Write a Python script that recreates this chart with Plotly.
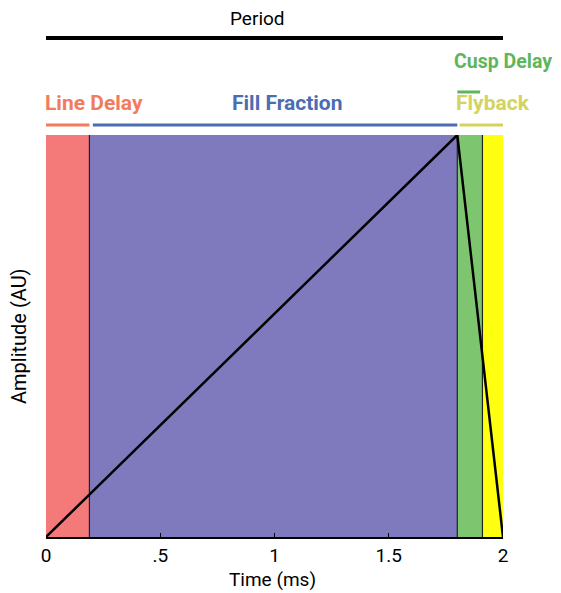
import plotly.graph_objects as go

# ---- data ----
region_names = ["Line Delay", "Fill Fraction", "Cusp Delay", "Flyback"]
region_start = [0.0, 0.19, 1.80, 1.91]
region_end = [0.19, 1.80, 1.91, 2.00]
region_fill = ["#f47a7a", "#7f7abd", "#7ec56f", "#ffff10"]
label_color = ["#f27b5c", "#4a6db3", "#5fb659", "#d3d35e"]

ramp_x = [0.0, 1.80, 2.00]
ramp_y = [0.0, 1.0, 0.0]

tick_vals = [0, 0.5, 1, 1.5, 2]
tick_text = ["0", ".5", "1", "1.5", "2"]

period = [0.0, 2.02]

FONT = "Roboto"

fig = go.Figure()

shapes = []
# colored regions
for s, e, c in zip(region_start, region_end, region_fill):
    shapes.append(dict(type="rect", xref="x", yref="y", x0=s, x1=e, y0=0, y1=1,
                       fillcolor=c, line=dict(width=0), layer="below"))
# separators
for b in region_end[:-1]:
    shapes.append(dict(type="line", xref="x", yref="y", x0=b, x1=b, y0=0, y1=1,
                       line=dict(color="#222222", width=1.2), layer="below"))

# bracket segments above plot
seg_y = 1.025
shapes.append(dict(type="line", xref="x", yref="paper", x0=0.0, x1=0.19, y0=seg_y, y1=seg_y,
                   line=dict(color=label_color[0], width=3)))
shapes.append(dict(type="line", xref="x", yref="paper", x0=0.205, x1=1.80, y0=seg_y, y1=seg_y,
                   line=dict(color=label_color[1], width=3)))
shapes.append(dict(type="line", xref="x", yref="paper", x0=1.81, x1=2.02, y0=seg_y, y1=seg_y,
                   line=dict(color=label_color[3], width=3)))
shapes.append(dict(type="line", xref="x", yref="paper", x0=1.80, x1=1.90, y0=1.107, y1=1.107,
                   line=dict(color=label_color[2], width=3)))
shapes.append(dict(type="line", xref="x", yref="paper", x0=period[0], x1=period[1], y0=1.2413, y1=1.2413,
                   line=dict(color="black", width=4)))

fig.add_trace(go.Scatter(x=ramp_x, y=ramp_y, mode="lines",
                         line=dict(color="black", width=2.5), showlegend=False,
                         hoverinfo="skip", cliponaxis=False))

LBL = 21
annotations = [
    dict(text="Period", xref="x", yref="paper", x=0.927, y=1.289, showarrow=False,
         font=dict(family=FONT, size=19, color="black"), xanchor="center", yanchor="middle"),
    dict(text="<b>Line Delay</b>", xref="paper", yref="paper", x=-0.006, y=1.0796, showarrow=False,
         font=dict(family=FONT, size=LBL, color=label_color[0]), xanchor="left", yanchor="middle"),
    dict(text="<b>Fill Fraction</b>", xref="x", yref="paper", x=1.058, y=1.0796, showarrow=False,
         font=dict(family=FONT, size=LBL, color=label_color[1]), xanchor="center", yanchor="middle"),
    dict(text="<b>Flyback</b>", xref="x", yref="paper", x=1.785, y=1.0796, showarrow=False,
         font=dict(family=FONT, size=LBL, color=label_color[3]), xanchor="left", yanchor="middle"),
    dict(text="<b>Cusp Delay</b>", xref="x", yref="paper", x=1.775, y=1.1816, showarrow=False,
         font=dict(family=FONT, size=19.5, color=label_color[2]), xanchor="left", yanchor="middle"),
    dict(text="Time (ms)", xref="paper", yref="paper", x=0.496, y=-0.105, showarrow=False,
         font=dict(family=FONT, size=19, color="black"), xanchor="center", yanchor="middle"),
    dict(text="Amplitude (AU)", xref="paper", yref="paper", x=-0.059, y=0.5, showarrow=False,
         textangle=-90, font=dict(family=FONT, size=20, color="black"),
         xanchor="center", yanchor="middle"),
]

fig.update_layout(
    width=553, height=585,
    margin=dict(l=38, r=58, t=127, b=56),
    paper_bgcolor="white", plot_bgcolor="white",
    shapes=shapes, annotations=annotations, showlegend=False,
    xaxis=dict(range=[0, 2], tickvals=tick_vals, ticktext=tick_text,
               ticks="inside", ticklen=4, tickcolor="black", tickwidth=1,
               showline=True, linecolor="black", linewidth=1.5,
               showgrid=False, zeroline=False,
               tickfont=dict(family=FONT, size=19, color="black")),
    yaxis=dict(range=[0, 1], showticklabels=False, showline=False,
               showgrid=False, zeroline=False, ticks=""),
)

fig.write_html("out.html")
